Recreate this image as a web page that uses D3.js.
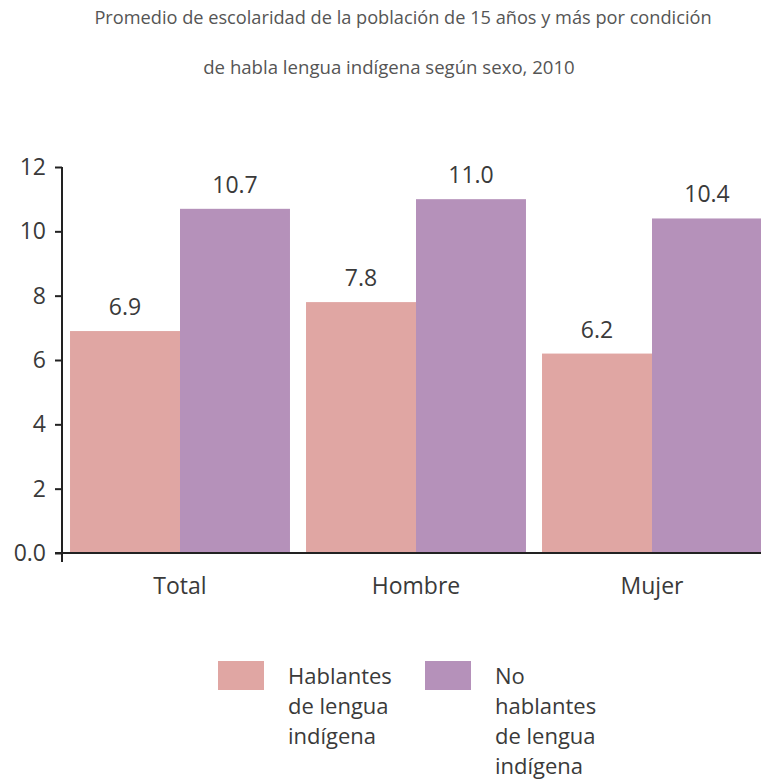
<!DOCTYPE html>
<html>
<head>
<meta charset="utf-8">
<script src="https://cdn.jsdelivr.net/npm/d3@7"></script>
<style>
  html, body { margin: 0; padding: 0; background: #fff; }
  svg { display: block; font-family: "Open Sans", "Noto Sans", sans-serif; }
</style>
</head>
<body>
<svg id="chart" width="761" height="779"></svg>
<script>
const titleLines = [
  "Promedio de escolaridad de la población de 15 años y más por condición",
  "de habla lengua indígena según sexo, 2010"
];
const categories = ["Total", "Hombre", "Mujer"];
const seriesNames = ["Hablantes de lengua indígena", "No hablantes de lengua indígena"];
const hablantes = [6.9, 7.8, 6.2];
const noHablantes = [10.7, 11.0, 10.4];
const yTicks = [0, 2, 4, 6, 8, 10, 12];
const legendLines = [
  ["Hablantes", "de lengua", "indígena"],
  ["No", "hablantes", "de lengua", "indígena"]
];
const colors = ["#E0A6A3", "#B591BA"];

const svg = d3.select("#chart");
const textColor = "#3a3a3a";
const fam = "Open Sans, Noto Sans, sans-serif";

// Title
svg.append("text").attr("x", 403).attr("y", 24).attr("text-anchor", "middle")
  .attr("font-size", 18.2).attr("fill", "#555").text(titleLines[0]);
svg.append("text").attr("x", 389).attr("y", 74).attr("text-anchor", "middle")
  .attr("font-size", 18.6).attr("fill", "#555").text(titleLines[1]);

const x0 = d3.scaleBand().domain(categories).range([62, 770])
  .paddingInner(0.068).paddingOuter(0.034);
const x1 = d3.scaleBand().domain(seriesNames).range([0, x0.bandwidth()]).padding(0);
const y = d3.scaleLinear().domain([0, 12]).range([553, 167]);

const data = categories.map((c, i) => ({cat: c, values: [hablantes[i], noHablantes[i]]}));

const groups = svg.append("g").selectAll("g").data(data).join("g")
  .attr("transform", d => `translate(${x0(d.cat)},0)`);

groups.selectAll("rect").data(d => d.values.map((v, j) => ({v, j})))
  .join("rect")
  .attr("x", d => x1(seriesNames[d.j]))
  .attr("y", d => y(d.v))
  .attr("width", x1.bandwidth())
  .attr("height", d => y(0) - y(d.v))
  .attr("fill", d => colors[d.j]);

groups.selectAll("text.val").data(d => d.values.map((v, j) => ({v, j})))
  .join("text").attr("class", "val")
  .attr("x", d => x1(seriesNames[d.j]) + x1.bandwidth() / 2)
  .attr("y", d => y(d.v) - 16)
  .attr("text-anchor", "middle")
  .attr("font-size", 23).attr("fill", textColor)
  .text(d => d.v.toFixed(1));

// Y axis
const yAxis = d3.axisLeft(y).tickValues(yTicks).tickSize(7).tickPadding(9)
  .tickFormat(d => d === 0 ? "0.0" : d3.format("d")(d));
const yg = svg.append("g").attr("transform", "translate(62,0)").call(yAxis);
yg.select(".domain").remove();
yg.selectAll(".tick line").attr("stroke", "#222").attr("stroke-width", 2);
yg.selectAll(".tick text").attr("font-size", 23).attr("fill", textColor)
  .attr("font-family", fam);
svg.append("line").attr("x1", 62).attr("x2", 62).attr("y1", y(12)).attr("y2", y(0) + 9)
  .attr("stroke", "#222").attr("stroke-width", 2);

// X axis
const xAxis = d3.axisBottom(x0).tickSize(0).tickPadding(25);
const xg = svg.append("g").attr("transform", `translate(0,${y(0)})`).call(xAxis);
xg.select(".domain").remove();
xg.selectAll(".tick text").attr("font-size", 23).attr("fill", textColor)
  .attr("font-family", fam);
svg.append("line").attr("x1", 55).attr("x2", 761).attr("y1", y(0)).attr("y2", y(0))
  .attr("stroke", "#222").attr("stroke-width", 2);

// Legend
const legendX = [218, 425];
seriesNames.forEach((s, i) => {
  const g = svg.append("g").attr("transform", `translate(${legendX[i]},661)`);
  g.append("rect").attr("width", 46).attr("height", 29).attr("fill", colors[i]);
  const t = g.append("text").attr("x", 70).attr("y", 23)
    .attr("font-size", 22).attr("fill", textColor);
  legendLines[i].forEach((ln, k) => {
    t.append("tspan").attr("x", 70).attr("dy", k === 0 ? 0 : 30).text(ln);
  });
});
</script>
</body>
</html>
